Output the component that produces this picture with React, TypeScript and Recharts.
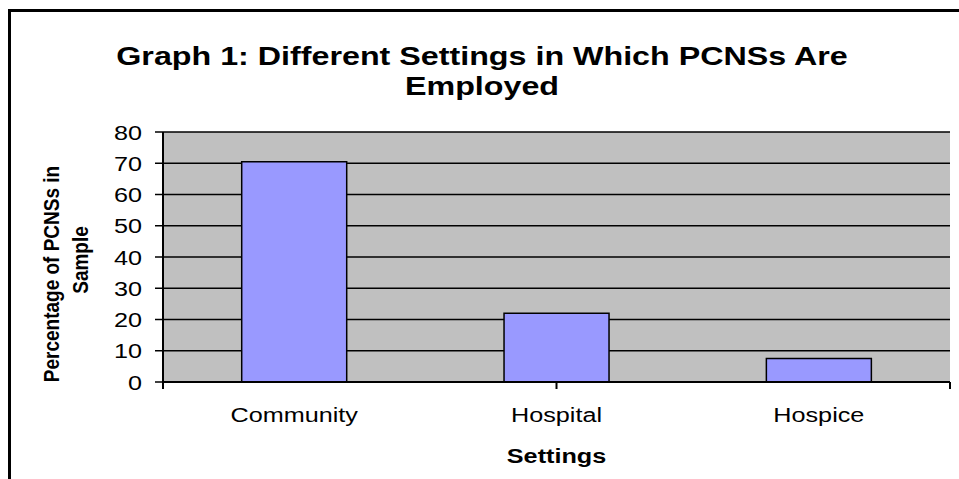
import { BarChart, Bar, XAxis, YAxis, CartesianGrid, ReferenceArea } from "recharts";

const settings = ["Community", "Hospital", "Hospice"];
const percentages = [70.5, 22, 7.5];
const yTicks = [0, 10, 20, 30, 40, 50, 60, 70, 80];
const edgeTicks = [0, 1, 2, 3];

const data = settings.map((name, i) => ({ name, pct: percentages[i] }));

const FONT = '"Liberation Sans", Arial, sans-serif';
// text in this chart is drawn slightly wide
const WIDE = 1.2;

const YTick = ({ x, y, payload }: any) => (
  <text
    transform={`translate(${x},${y}) scale(${WIDE},1)`}
    textAnchor="end"
    dy="0.36em"
    fontFamily={FONT}
    fontSize={21}
    fill="#000"
  >
    {payload.value}
  </text>
);

const XTick = ({ x, y, payload }: any) => (
  <text
    transform={`translate(${x},${y}) scale(${WIDE},1)`}
    textAnchor="middle"
    dy="0.71em"
    fontFamily={FONT}
    fontSize={21}
    fill="#000"
  >
    {payload.value}
  </text>
);

const XTitle = ({ viewBox }: any) => (
  <text
    transform={`translate(${viewBox.x + viewBox.width / 2},${viewBox.y + 80}) scale(${WIDE},1)`}
    textAnchor="middle"
    fontFamily={FONT}
    fontSize={21}
    fontWeight="bold"
    fill="#000"
  >
    Settings
  </text>
);

const YTitle = () => (
  <g fontFamily={FONT} fontSize={19} fontWeight="bold" fill="#000">
    <text transform={`translate(51,274) scale(${WIDE},1) rotate(-90)`} textAnchor="middle" dy="0.36em">
      Percentage of PCNSs in
    </text>
    <text transform={`translate(80,260) scale(${WIDE},1) rotate(-90)`} textAnchor="middle" dy="0.36em">
      Sample
    </text>
  </g>
);

export default function App() {
  return (
    <div
      style={{
        position: "absolute",
        left: 0,
        top: 0,
        width: 959,
        height: 479,
        overflow: "hidden",
        background: "#fff",
        fontFamily: FONT,
      }}
    >
      <div
        style={{
          position: "absolute",
          left: 8,
          top: 9,
          width: 1000,
          height: 1000,
          border: "3px solid #000",
        }}
      />
      <div
        style={{
          position: "absolute",
          left: 0,
          top: 41,
          width: 964,
          textAlign: "center",
          fontSize: 26,
          fontWeight: "bold",
          lineHeight: "30px",
          transform: `scaleX(${WIDE + 0.04})`,
          transformOrigin: "482px 0",
        }}
      >
        Graph 1: Different Settings in Which PCNSs Are
        <br />
        Employed
      </div>
      <div style={{ position: "absolute", left: 0, top: 0 }}>
        <BarChart
          width={959}
          height={479}
          data={data}
          margin={{ top: 132, right: 9, bottom: 0, left: 0 }}
          barCategoryGap="30%"
        >
          <CartesianGrid
            xAxisId="a"
            vertical={false}
            stroke="#000"
            strokeWidth={1.3}
            fill="#C0C0C0"
            fillOpacity={1}
          />
          <ReferenceArea
            xAxisId="a"
            x1={0}
            x2={3}
            y1={0}
            y2={80}
            fill="none"
            stroke="#808080"
            strokeWidth={2}
          />
          <Bar
            xAxisId="b"
            dataKey="pct"
            fill="#9999FF"
            stroke="#000"
            strokeWidth={1.5}
            isAnimationActive={false}
          />
          {/* category labels sit under the boundary-tick axis */}
          <XAxis
            xAxisId="b"
            dataKey="name"
            height={96}
            axisLine={false}
            tickLine={false}
            tickSize={0}
            tickMargin={24}
            tick={<XTick />}
            label={{ content: <XTitle /> }}
          />
          <XAxis
            xAxisId="a"
            type="number"
            domain={[0, 3]}
            ticks={edgeTicks}
            height={1}
            tickSize={7}
            tickFormatter={() => ""}
            axisLine={{ stroke: "#000", strokeWidth: 2 }}
            tickLine={{ stroke: "#000", strokeWidth: 2 }}
          />
          <YAxis
            width={163}
            domain={[0, 80]}
            ticks={yTicks}
            tickSize={8}
            tickMargin={13}
            tick={<YTick />}
            axisLine={{ stroke: "#000", strokeWidth: 2 }}
            tickLine={{ stroke: "#000", strokeWidth: 1.5 }}
            label={{ content: <YTitle /> }}
          />
        </BarChart>
      </div>
    </div>
  );
}
